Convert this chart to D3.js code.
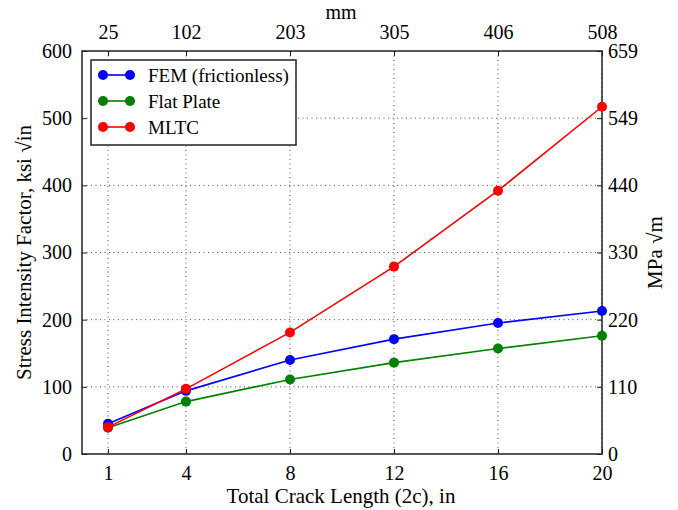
<!DOCTYPE html>
<html>
<head>
<meta charset="utf-8">
<script src="https://cdn.jsdelivr.net/npm/d3@7"></script>
<style>
  html, body { margin: 0; padding: 0; background: #fff; }
  svg { display: block; }
  svg text { font-family: "Liberation Serif", "Times New Roman", "DejaVu Serif", serif !important; fill: #000; }
</style>
</head>
<body>
<script>
// ---- data ----
const crackLength = [1, 4, 8, 12, 16, 20];             // in
const femFrictionless = [45, 94, 140, 171, 195, 213];   // ksi √in
const flatPlate = [39, 78, 111, 136, 157, 176];
const mltc = [40, 97, 181, 279, 392, 517];
const seriesNames = ["FEM (frictionless)", "Flat Plate", "MLTC"];
const seriesColors = ["#0000ff", "#008000", "#ff0000"];
const leftTicks = [0, 100, 200, 300, 400, 500, 600];
const rightTickLabels = ["0", "110", "220", "330", "440", "549", "659"];
const topTickLabels = ["25", "102", "203", "305", "406", "508"];

const W = 678, H = 510;
const m = { left: 82, right: 602, top: 51, bottom: 454 };

const svg = d3.select("body").append("svg").attr("width", W).attr("height", H)
  .attr("font-family", "Liberation Serif, Times New Roman, serif");

const x = d3.scaleLinear().domain([0, 20]).range([m.left, m.right]);
const y = d3.scaleLinear().domain([0, 600]).range([m.bottom, m.top]);

// grid
const grid = svg.append("g");
grid.selectAll("line.gx").data(crackLength).join("line")
  .attr("x1", d => x(d)).attr("x2", d => x(d))
  .attr("y1", m.top).attr("y2", m.bottom)
  .attr("stroke", "#555").attr("stroke-width", 1).attr("stroke-dasharray", "1,3.5");
grid.selectAll("line.gy").data(leftTicks.slice(1, -1)).join("line")
  .attr("y1", d => y(d)).attr("y2", d => y(d))
  .attr("x1", m.left).attr("x2", m.right)
  .attr("stroke", "#555").attr("stroke-width", 1).attr("stroke-dasharray", "1,3.5");

// axes
const fs = 20;
const bottomAxis = d3.axisBottom(x).tickValues(crackLength).tickSizeInner(-5).tickSizeOuter(0).tickPadding(12);
const topAxis = d3.axisTop(x).tickValues(crackLength).tickFormat((d, i) => topTickLabels[i]).tickSizeInner(-5).tickSizeOuter(0).tickPadding(12);
const leftAxis = d3.axisLeft(y).tickValues(leftTicks).tickSizeInner(-5).tickSizeOuter(0).tickPadding(10);
const rightAxis = d3.axisRight(y).tickValues(leftTicks).tickFormat((d, i) => rightTickLabels[i]).tickSizeInner(-5).tickSizeOuter(0).tickPadding(6);

function styleAxis(g) {
  g.attr("font-family", "Liberation Serif, Times New Roman, serif");
  g.select(".domain").remove();
  g.selectAll(".tick line").attr("stroke", "#222").attr("stroke-width", 1);
  g.selectAll(".tick text").style("font-size", fs + "px").attr("fill", "#000");
}
svg.append("g").attr("transform", `translate(0,${m.bottom})`).call(bottomAxis).call(styleAxis);
svg.append("g").attr("transform", `translate(0,${m.top})`).call(topAxis).call(styleAxis);
svg.append("g").attr("transform", `translate(${m.left},0)`).call(leftAxis).call(styleAxis);
svg.append("g").attr("transform", `translate(${m.right},0)`).call(rightAxis).call(styleAxis);

// frame
svg.append("rect").attr("x", m.left).attr("y", m.top)
  .attr("width", m.right - m.left).attr("height", m.bottom - m.top)
  .attr("fill", "none").attr("stroke", "#222").attr("stroke-width", 1.5);

// series
const allSeries = [femFrictionless, flatPlate, mltc];
const line = d3.line().x((d, i) => x(crackLength[i])).y(d => y(d));
allSeries.forEach((vals, k) => {
  svg.append("path").datum(vals).attr("d", line)
    .attr("fill", "none").attr("stroke", seriesColors[k]).attr("stroke-width", 1.6);
  svg.append("g").selectAll("circle").data(vals).join("circle")
    .attr("cx", (d, i) => x(crackLength[i])).attr("cy", d => y(d)).attr("r", 5)
    .attr("fill", seriesColors[k]);
});

// legend
const lg = svg.append("g");
lg.append("rect").attr("x", 91).attr("y", 60).attr("width", 205).attr("height", 85)
  .attr("fill", "#fff").attr("stroke", "#222").attr("stroke-width", 1.5);
seriesNames.forEach((name, k) => {
  const yy = 75 + k * 26;
  lg.append("line").attr("x1", 103).attr("x2", 130).attr("y1", yy).attr("y2", yy)
    .attr("stroke", seriesColors[k]).attr("stroke-width", 1.6);
  lg.append("circle").attr("cx", 103).attr("cy", yy).attr("r", 5).attr("fill", seriesColors[k]);
  lg.append("circle").attr("cx", 130).attr("cy", yy).attr("r", 5).attr("fill", seriesColors[k]);
  lg.append("text").attr("x", 148).attr("y", yy + 6.5).style("font-size", "19px").text(name);
});

// axis labels
svg.append("text").attr("x", 341).attr("y", 503).attr("text-anchor", "middle")
  .style("font-size", "21px").text("Total Crack Length (2c), in");
svg.append("text").attr("x", 341).attr("y", 19).attr("text-anchor", "middle")
  .style("font-size", "20px").text("mm");
svg.append("text").attr("transform", `translate(31,${(m.top + m.bottom) / 2}) rotate(-90)`)
  .attr("text-anchor", "middle").style("font-size", "21px").text("Stress Intensity Factor, ksi √in");
svg.append("text").attr("transform", `translate(662,${(m.top + m.bottom) / 2}) rotate(-90)`)
  .attr("text-anchor", "middle").style("font-size", "21px").text("MPa √m");
</script>
</body>
</html>
